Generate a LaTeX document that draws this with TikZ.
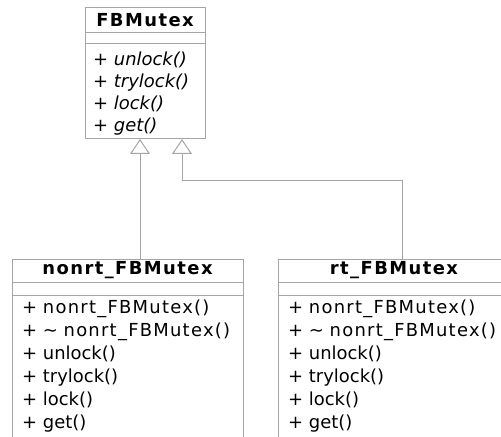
\documentclass[tikz,border=0pt]{standalone}
\usepackage{fontspec}
\setmainfont{DejaVu Sans}
% slightly opened-up spacing for class names
\newfontfamily\namefont[LetterSpace=7]{DejaVu Sans}
\newfontfamily\titlefont[LetterSpace=8]{DejaVu Sans}
\newcommand\clsname[1]{{\namefont #1}}
\usetikzlibrary{arrows.meta}
\definecolor{linegray}{RGB}{165,165,165}
\begin{document}
\begin{tikzpicture}[x=1bp,y=-1bp,
  classbox/.style={draw=linegray, line width=1bp, anchor=north west,
                   inner sep=0pt, outer sep=0pt},
  sep/.style={draw=linegray, line width=1bp},
  cname/.style={font=\fontsize{18}{20}\titlefont\bfseries, inner sep=0pt},
  member/.style={font=\fontsize{18}{20}\selectfont, anchor=west, inner sep=0pt,
                 text height=13bp, text depth=4bp},
  absmember/.style={member, font=\fontsize{18}{20}\selectfont\itshape},
  inherit/.style={draw=linegray, line width=1bp,
                  -{Triangle[open, width=20bp, length=15bp, line width=1bp]}}]
\useasboundingbox (0,0) rectangle (501,437);
\clip (0,0) rectangle (501,437);

% base class
\node[classbox, minimum width=120bp, minimum height=131bp] (fb) at (85,8) {};
\node[cname] (fbname) at ([yshift=-12.5bp]fb.north) {FBMutex};
\draw[sep] ([yshift=-25bp]fb.north west) -- ([yshift=-25bp]fb.north east);
\draw[sep] ([yshift=-36bp]fb.north west) -- ([yshift=-36bp]fb.north east);
\node[absmember] (fb1) at ([xshift=8bp,yshift=-53bp]fb.north west) {+ unlock()};
\node[absmember] (fb2) at ([xshift=8bp,yshift=-75bp]fb.north west) {+ trylock()};
\node[absmember] (fb3) at ([xshift=8bp,yshift=-97bp]fb.north west) {+ lock()};
\node[absmember] (fb4) at ([xshift=8bp,yshift=-119bp]fb.north west) {+ get()};
\coordinate (fbL) at ([xshift=55bp]fb.south west);
\coordinate (fbR) at ([xshift=97bp]fb.south west);

% non-realtime subclass
\node[classbox, minimum width=231bp, minimum height=200bp] (nonrt) at (12,259) {};
\node[cname] (nonrtname) at ([yshift=-11.5bp]nonrt.north) {nonrt\_FBMutex};
\draw[sep] ([yshift=-23bp]nonrt.north west) -- ([yshift=-23bp]nonrt.north east);
\draw[sep] ([yshift=-36bp]nonrt.north west) -- ([yshift=-36bp]nonrt.north east);
\node[member] (n1) at ([xshift=10bp,yshift=-50bp]nonrt.north west) {+ \clsname{nonrt\_FBMutex()}};
\node[member] (n2) at ([xshift=10bp,yshift=-73bp]nonrt.north west) {+ \textasciitilde\ \clsname{nonrt\_FBMutex()}};
\node[member] (n3) at ([xshift=10bp,yshift=-96bp]nonrt.north west) {+ unlock()};
\node[member] (n4) at ([xshift=10bp,yshift=-119bp]nonrt.north west) {+ trylock()};
\node[member] (n5) at ([xshift=10bp,yshift=-142bp]nonrt.north west) {+ lock()};
\node[member] (n6) at ([xshift=10bp,yshift=-165bp]nonrt.north west) {+ get()};

% realtime subclass
\node[classbox, minimum width=232bp, minimum height=200bp] (rt) at (278,259) {};
\node[cname] (rtname) at ([yshift=-11.5bp]rt.north) {rt\_FBMutex};
\draw[sep] ([yshift=-23bp]rt.north west) -- ([yshift=-23bp]rt.north east);
\draw[sep] ([yshift=-36bp]rt.north west) -- ([yshift=-36bp]rt.north east);
\node[member] (r1) at ([xshift=10bp,yshift=-50bp]rt.north west) {+ \clsname{nonrt\_FBMutex()}};
\node[member] (r2) at ([xshift=10bp,yshift=-73bp]rt.north west) {+ \textasciitilde\ \clsname{nonrt\_FBMutex()}};
\node[member] (r3) at ([xshift=10bp,yshift=-96bp]rt.north west) {+ unlock()};
\node[member] (r4) at ([xshift=10bp,yshift=-119bp]rt.north west) {+ trylock()};
\node[member] (r5) at ([xshift=10bp,yshift=-142bp]rt.north west) {+ lock()};
\node[member] (r6) at ([xshift=10bp,yshift=-165bp]rt.north west) {+ get()};
\coordinate (rtTop) at ([xshift=124bp]rt.north west);

% generalisation arrows
\draw[inherit] (nonrt.north -| fbL) -- (fbL);
\draw[inherit] (rtTop) -- ++(0,-78) -| (fbR);
\end{tikzpicture}
\end{document}
